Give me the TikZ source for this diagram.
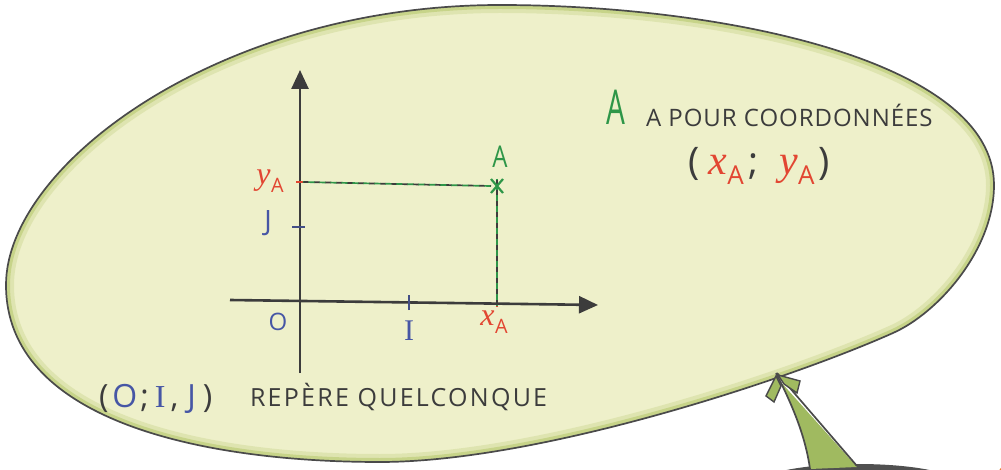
\documentclass[tikz,border=0pt]{standalone}
\usepackage{fontspec}
\setmainfont{Open Sans}
\newfontfamily\serfont{Liberation Serif}
\newcommand\varA[1]{{\serfont\itshape #1}\kern0.5pt\raisebox{-0.25em}{\scalebox{0.62}{A}}}
\usetikzlibrary{arrows.meta}
\definecolor{bubfill}{RGB}{238,240,202}
\definecolor{bubedge}{RGB}{194,208,128}
\definecolor{outl}{RGB}{74,74,74}
\definecolor{ink}{RGB}{60,60,60}
\definecolor{bluei}{RGB}{70,86,165}
\definecolor{redi}{RGB}{226,70,50}
\definecolor{greeni}{RGB}{46,150,72}
\definecolor{tailfill}{RGB}{160,186,96}
\definecolor{darkblob}{RGB}{80,80,80}
\definecolor{orangei}{RGB}{236,128,48}
\begin{document}
\begin{tikzpicture}[x=1pt,y=-1pt,
  axisline/.style={draw=ink, line width=2.6pt, -{Triangle[length=19pt,width=17pt]}},
  txt/.style={inner sep=0pt, outer sep=0pt},
  bluelab/.style={txt, text=bluei, font=\fontsize{24}{24}\selectfont},
  redlab/.style={txt, text=redi, font=\fontsize{32}{32}\selectfont},
  greylab/.style={txt, text=ink},
  guide/.style={line width=1.7pt, dash pattern=on 6pt off 5pt},
  outline/.style={draw=outl, line width=1.7pt}]
\useasboundingbox (0,0) rectangle (1001,470);
\def\bubblepath{(6,285) .. controls (6,165) and (220,5) .. (500,5)
  .. controls (720,5) and (994,60) .. (994,185)
  .. controls (994,250) and (938,313) .. (893,333)
  .. controls (790,379) and (540,462) .. (380,462)
  .. controls (200,462) and (6,420) .. (6,285) -- cycle}
% other figure below, cut off
\fill[darkblob] (858,484) ellipse [x radius=100pt, y radius=20pt];
\fill[orangei] (1012,476) circle [radius=14pt];
% bubble
\fill[bubfill] \bubblepath;
\begin{scope}
  \clip \bubblepath;
  \draw[bubedge, line width=16pt, opacity=0.35] \bubblepath;
  \draw[bubedge, line width=8pt, opacity=0.8] \bubblepath;
\end{scope}
\draw[outline] \bubblepath;
% tail
\fill[tailfill] (779,380) .. controls (795,410) and (806,440) .. (810,469) -- (857,467) -- cycle;
\draw[outline] (776,373) .. controls (795,410) and (806,440) .. (810,469);
\draw[outline] (777,373) -- (857,466);
\filldraw[tailfill, draw=outl, line width=1.4pt] (776,376) -- (766,396) -- (774,402) -- (781,386) -- cycle;
\filldraw[tailfill, draw=outl, line width=1.4pt] (778,375) -- (800,381) -- (797,393) -- (784,384) -- cycle;
% axes
\coordinate (O) at (300,301);
\coordinate (xs) at (230,300);
\coordinate (xe) at (598,305);
\coordinate (ys) at (300,373);
\coordinate (ye) at (300,70);
\draw[axisline] (xs) -- (xe);
\draw[axisline] (ys) -- (ye);
% ticks
\coordinate (I) at (409,302);
\coordinate (J) at (300,227);
\coordinate (yA) at (300,182);
\coordinate (xA) at (497,303);
\coordinate (A) at (497,186);
\draw[bluei!70!ink, line width=2pt] ([yshift=-8pt]I) -- ([yshift=7pt]I);
\draw[bluei!70!ink, line width=2pt] ([xshift=-8pt]J) -- ([xshift=5pt]J);
\draw[redi, line width=2.2pt] ([xshift=-4pt]yA) -- ([xshift=4pt]yA);
\draw[redi, line width=2.2pt] ([yshift=-4pt]xA) -- ([yshift=4pt]xA);
% guides
\draw[guide, ink] ([xshift=3pt]yA) -- ([xshift=-6pt]A);
\draw[guide, greeni, dash phase=5.5pt] ([xshift=3pt]yA) -- ([xshift=-6pt]A);
\draw[guide, ink] ([yshift=7pt]A) -- ([yshift=-3pt]xA);
\draw[guide, greeni, dash phase=5.5pt] ([yshift=7pt]A) -- ([yshift=-3pt]xA);
% point A
\draw[greeni, line width=2.2pt] ([shift={(-6,-7)}]A) -- ([shift={(6,7)}]A);
\draw[greeni, line width=2.2pt] ([shift={(-6,7)}]A) -- ([shift={(6,-7)}]A);
\node[txt, text=greeni, font=\fontsize{30}{30}\selectfont] (Alab) at (500,157) {\scalebox{0.8}[1]{A}};
% axis labels
\node[bluelab] (olab) at (278,322) {O};
\node[bluelab, font=\fontsize{30}{30}\selectfont\serfont] (ilab) at (409,331) {I};
\node[bluelab, font=\fontsize{28}{28}\selectfont] (jlab) at (268,223) {J};
\node[redlab] (ylab) at (270,181) {\varA{y}};
\node[redlab] (xlab) at (494,322) {\varA{x}};
% right text
\node[txt, text=greeni, anchor=base west, font=\fontsize{48}{48}\selectfont] (bigA) at (606,125) {\scalebox{0.62}[1]{A}};
\node[greylab, anchor=base west, font=\fontsize{24}{24}\selectfont\addfontfeature{LetterSpace=4}] (coordtxt) at (646,127) {A POUR COORDONNÉES};
\node[greylab, font=\fontsize{38}{38}\selectfont] (pair) at (759,166) {(\hspace{9pt}{\fontsize{42}{42}\selectfont\textcolor{redi}{\varA{x}}}\hspace{5pt};\hspace{20pt}{\fontsize{42}{42}\selectfont\textcolor{redi}{\varA{y}}}\hspace{4pt})};
% bottom text
\node[greylab, anchor=base west, font=\fontsize{32}{32}\selectfont] (frame) at (99,407) {(\hspace{4pt}\textcolor{bluei}{O}\hspace{3pt};\hspace{6pt}\textcolor{bluei}{\serfont I}\hspace{5pt},\hspace{9pt}\textcolor{bluei}{J}\hspace{7pt})};
\node[greylab, anchor=base west, font=\fontsize{25}{25}\selectfont\addfontfeature{LetterSpace=9}] (repere) at (250,406) {REPÈRE QUELCONQUE};
\end{tikzpicture}
\end{document}
